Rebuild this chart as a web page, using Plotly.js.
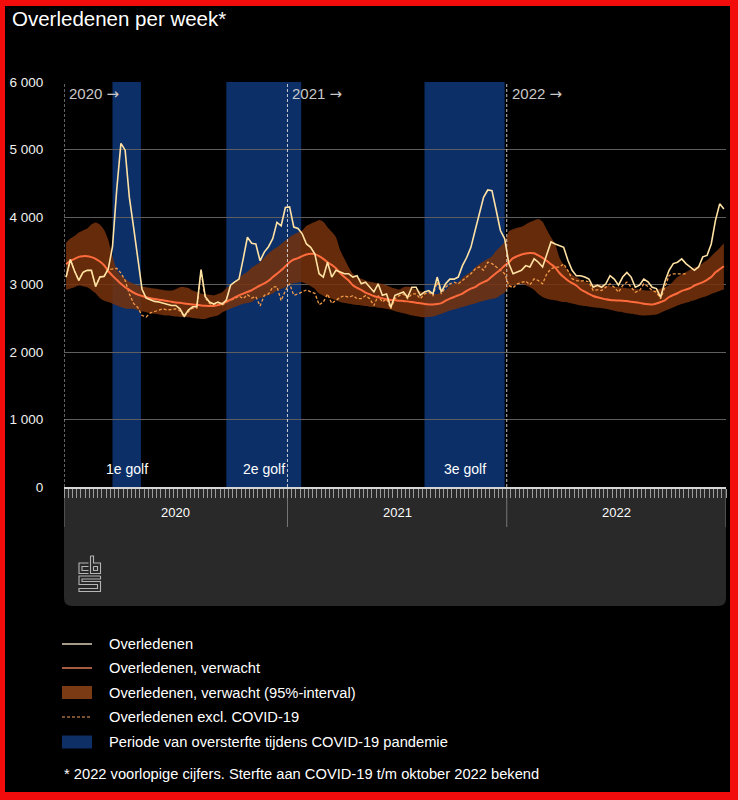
<!DOCTYPE html>
<html>
<head>
<meta charset="utf-8">
<script src="https://cdn.plot.ly/plotly-3.0.1.min.js"></script>
<style>
  html, body { margin:0; padding:0; background:#000; }
  #wrap { position:relative; width:738px; height:800px; }
  #chart { width:738px; height:800px; }
  #frame { position:absolute; left:0; top:0; width:738px; height:800px; box-sizing:border-box;
           border-style:solid; border-color:#f20c0c; border-width:6px 8px 8px 5px; pointer-events:none; }
</style>
</head>
<body>
<div id="wrap"><div id="chart"></div><div id="frame"></div></div>
<script>
// ---------- DATA ----------
const years = ['2020', '2021', '2022'];
const weeksPerYear = [53, 52, 52];

const observed2020 = [3110,3370,3200,3060,3180,3210,3210,2970,3110,3120, 3230,3560,4400,5090,4990,4290,3850,3400,2930,2800,
  2770,2750,2740,2720,2710,2690,2690,2640,2530,2620, 2670,2670,3220,2820,2740,2710,2740,2710,2770,2990,
  3040,3080,3380,3700,3610,3600,3350,3480,3560,3680, 3920,3870,4140];
const observed2021 = [4150,3850,3830,3750,3600,3550,3450,3160,3110,3330, 3110,3210,3180,3160,3160,3110,3130,3010,3035,2960,
  2890,3010,2840,2860,2660,2840,2860,2890,2810,2960, 2960,2840,2890,2910,2860,3110,2890,3010,3080,3080,
  3110,3280,3400,3550,3800,4050,4290,4400,4390,4100, 3800,3680];
const observed2022 = [3310,3160,3180,3210,3280,3260,3380,3330,3260,3450, 3630,3600,3580,3550,3360,3210,3130,3130,3110,3080,
  2960,2990,2960,3010,3130,3080,2990,3110,3180,3110, 2960,2990,3080,3040,2960,2940,2810,3040,3210,3310,
  3330,3380,3310,3260,3210,3260,3410,3430,3600,3950, 4195,4120];

const exclCovid2020 = [3110,3370,3200,3060,3180,3210,3210,2970,3110,3120, 3220,3230,3240,3170,3060,2860,2720,2660,2540,2520,
  2580,2600,2620,2640,2620,2630,2640,2610,2520,2600, 2650,2650,3190,2800,2720,2690,2710,2690,2740,2770,
  2790,2830,2790,2850,2800,2820,2680,2840,2860,2960, 2970,2760,2910];
const exclCovid2021 = [3010,2840,2860,2890,2920,2890,2870,2700,2740,2860, 2720,2765,2810,2835,2810,2835,2790,2790,2835,2790,
  2690,2835,2740,2790,2640,2790,2835,2860,2790,2860, 2860,2790,2860,2885,2835,3035,2860,2960,3010,3035,
  3010,3060,3110,3160,3230,3260,3210,3330,3310,3260, 3210,3160];
const exclCovid2022 = [2985,2950,3010,3035,3050,2995,3084,3060,3010,3158, 3232,3257,3257,3306,3207,3084,3059,3050,3059,3035,
  2911,2921,2911,2960,3010,2960,2886,2985,3035,2960, 2886,2911,3010,2970,2911,2886,2787,2960,3133,3158,
  3158,3158,3158];

const expected2020 = [3300,3350,3380,3410,3420,3420,3405,3380,3340,3285, 3200,3130,3070,3010,2960,2920,2880,2850,2830,2810,
  2795,2785,2775,2765,2755,2745,2735,2728,2720,2712, 2705,2698,2690,2685,2680,2682,2695,2720,2745,2775,
  2810,2840,2865,2890,2915,2950,2985,3015,3055,3110, 3160,3210,3270];
const expected2021 = [3330,3370,3390,3420,3445,3455,3450,3420,3380,3330, 3290,3240,3170,3110,3060,2990,2950,2920,2880,2855,
  2830,2810,2795,2780,2770,2765,2760,2755,2750,2740, 2730,2722,2712,2705,2703,2710,2725,2760,2790,2815,
  2840,2865,2905,2940,2960,3005,3035,3065,3120,3170, 3220,3280];
const expected2022 = [3330,3390,3420,3445,3460,3465,3462,3430,3395,3350, 3300,3250,3170,3110,3060,3020,2985,2930,2895,2860,
  2830,2810,2795,2780,2770,2765,2762,2760,2755,2745, 2738,2728,2715,2708,2704,2718,2740,2765,2815,2845,
  2870,2905,2925,2945,2985,3010,3035,3070,3110,3180, 3225,3270];

const upper2020 = [3620,3680,3720,3770,3800,3830,3890,3920,3890,3810, 3660,3420,3220,3130,3085,3040,3010,2985,2970,2960,
  2950,2940,2930,2920,2910,2910,2930,2960,2960,2950, 2910,2890,2865,2855,2850,2840,2860,2885,2950,2990,
  3030,3100,3150,3185,3250,3290,3330,3400,3460,3510, 3550,3600,3650];
const upper2021 = [3700,3740,3770,3800,3870,3900,3925,3955,3930,3850, 3780,3700,3510,3380,3260,3160,3110,3085,3060,3040,
  3030,3020,3010,2990,2960,2940,2925,2960,2965,2960, 2925,2900,2885,2870,2860,2860,2880,2910,2985,3010,
  3035,3105,3150,3185,3255,3300,3340,3380,3420,3500, 3560,3630];
const upper2022 = [3790,3820,3840,3855,3890,3925,3950,3970,3930,3810, 3700,3600,3400,3290,3210,3150,3110,3070,3040,3015,
  3000,2995,2990,2985,2975,2965,2960,2955,2945,2940, 2935,2925,2915,2910,2915,2920,2940,2960,2990,3050,
  3110,3150,3185,3220,3250,3270,3320,3360,3420,3480, 3540,3610];

const lower2020 = [2920,2940,2960,2985,2975,2960,2920,2870,2800,2760, 2740,2715,2690,2665,2645,2640,2640,2620,2600,2590,
  2575,2565,2555,2545,2540,2535,2525,2520,2518,2515, 2505,2495,2490,2490,2510,2525,2540,2585,2615,2640,
  2665,2690,2715,2725,2740,2785,2800,2815,2840,2865, 2910,2935,2960];
const lower2021 = [3010,3020,3030,3035,3010,2975,2935,2865,2835,2810, 2790,2765,2740,2725,2715,2705,2695,2690,2680,2672,
  2665,2655,2648,2640,2625,2605,2590,2575,2560,2540, 2530,2520,2516,2520,2526,2545,2565,2590,2615,2630,
  2650,2665,2685,2705,2720,2740,2760,2775,2790,2800, 2840,2880];
const lower2022 = [2960,2985,3000,3010,2990,2960,2920,2860,2815,2790, 2775,2765,2750,2740,2735,2720,2705,2690,2680,2670,
  2662,2655,2648,2640,2625,2610,2595,2590,2575,2565, 2555,2545,2540,2545,2550,2555,2580,2610,2635,2660,
  2690,2710,2730,2750,2765,2790,2810,2830,2860,2880, 2905,2925];

// excess-mortality periods (in weeks counted from 2020 week 1)
const waveLabels = ['1e golf', '2e golf', '3e golf'];
const waveStart = [11.5, 38.5, 85.5];
const waveEnd = [18.25, 56.25, 104.5];

const yTickValues = [0, 1000, 2000, 3000, 4000, 5000, 6000];
const yTickLabels = ['0', '1 000', '2 000', '3 000', '4 000', '5 000', '6 000'];

const legendLabels = ['Overledenen', 'Overledenen, verwacht', 'Overledenen, verwacht (95%-interval)',
  'Overledenen excl. COVID-19', 'Periode van oversterfte tijdens COVID-19 pandemie'];
const footnote = '* 2022 voorlopige cijfers. Sterfte aan COVID-19 t/m oktober 2022 bekend';
const chartTitle = 'Overledenen per week*';

// ---------- BUILD ----------
const yearOffset = [];
let acc = 0;
weeksPerYear.forEach(n => { yearOffset.push(acc); acc += n; });
const totalWeeks = acc;

function weekX(yearIdx, count) {
  const out = [];
  for (let w = 1; w <= count; w++) out.push(yearOffset[yearIdx] + w - 0.5);
  return out;
}
const xAll = [].concat(weekX(0, 53), weekX(1, 52), weekX(2, 52));
const xExcl = [].concat(weekX(0, 53), weekX(1, 52), weekX(2, exclCovid2022.length));

const observed = [].concat(observed2020, observed2021, observed2022);
const exclCovid = [].concat(exclCovid2020, exclCovid2021, exclCovid2022);
const expected = [].concat(expected2020, expected2021, expected2022);
const upper = [].concat(upper2020, upper2021, upper2022);
const lower = [].concat(lower2020, lower2021, lower2022);

const C = {
  obs: '#ffe2a4', exp: '#ff6b3d', band: 'rgba(118,50,12,0.86)', excl: '#f39a48',
  wave: '#0c2f68', grid: '#5e5e5e'
};

const traces = [
  { x: xAll, y: lower, mode: 'lines', line: { width: 0, shape: 'spline', smoothing: 0.6 }, hoverinfo: 'skip' },
  { x: xAll, y: upper, mode: 'lines', fill: 'tonexty', fillcolor: C.band,
    line: { width: 0, shape: 'spline', smoothing: 0.6 }, hoverinfo: 'skip' },
  { x: xExcl, y: exclCovid, mode: 'lines', line: { color: C.excl, width: 1.3, dash: '3px,2px' } },
  { x: xAll, y: expected, mode: 'lines', line: { color: C.exp, width: 2, shape: 'spline', smoothing: 0.6 } },
  { x: xAll, y: observed, mode: 'lines', line: { color: C.obs, width: 1.6 } }
];

// plot-area pixel helpers (plot area: x 64..726, y 82..487)
const PL = 64, PR = 726, PT = 82, PB = 487;
const px = v => (v - PL) / (PR - PL);
const py = v => (PB - v) / (PB - PT);

const shapes = [];
const annotations = [];
const ARROW = '<span style="font-family:\'DejaVu Sans\'">\u2192</span>';

// waves
waveStart.forEach((s, i) => {
  shapes.push({ type: 'rect', xref: 'x', yref: 'paper', x0: s, x1: waveEnd[i], y0: 0, y1: 1,
    fillcolor: C.wave, line: { width: 0 }, layer: 'below' });
  annotations.push({ xref: 'x', yref: 'paper', x: (s + waveEnd[i]) / 2, y: py(469), text: waveLabels[i],
    showarrow: false, xanchor: 'center', yanchor: 'middle', font: { size: 14, color: '#ffffff' } });
});

// axis panel with rounded bottom corners
(function () {
  const yt = py(488), yb = py(606), dx = 8 / (PR - PL), dy = 8 / (PB - PT);
  shapes.push({ type: 'path', xref: 'paper', yref: 'paper', layer: 'below',
    path: `M0,${yt} L1,${yt} L1,${yb + dy} Q1,${yb} ${1 - dx},${yb} L${dx},${yb} Q0,${yb} 0,${yb + dy} Z`,
    fillcolor: '#292929', line: { width: 0 } });
})();

// year boundaries
const boundaries = yearOffset.concat([totalWeeks]);
boundaries.forEach(b => {
  shapes.push({ type: 'line', xref: 'x', yref: 'paper', x0: b, x1: b, y0: py(489), y1: py(527),
    line: { color: '#777777', width: 1 }, layer: 'below' });
});
yearOffset.forEach((b, i) => {
  shapes.push({ type: 'line', xref: 'x', yref: 'paper', x0: b, x1: b, y0: 0, y1: 1,
    line: { color: 'rgba(230,230,230,0.85)', width: 1, dash: '3px,2px' }, layer: 'above' });
  annotations.push({ xref: 'x', yref: 'paper', x: b, xshift: 3, y: py(94), text: years[i] + ' ' + ARROW,
    showarrow: false, xanchor: 'left', yanchor: 'middle', font: { size: 15, color: '#c9c9c9' } });
  annotations.push({ xref: 'x', yref: 'paper', x: b + weeksPerYear[i] / 2, y: py(512), text: years[i],
    showarrow: false, xanchor: 'center', yanchor: 'middle', font: { size: 13, color: '#ffffff' } });
});

// CBS logo (outline glyphs)
function pathFrom(pts) {
  return pts.map((p, i) => (i ? 'L' : 'M') + px(p[0]).toFixed(5) + ',' + py(p[1]).toFixed(5)).join(' ');
}
const logoParts = [
  pathFrom([[88.5,563],[79,563],[79,573.5],[88.5,573.5]]),
  pathFrom([[88.5,566.5],[82,566.5],[82,570.5],[88.5,570.5]]),
  pathFrom([[90.5,556],[90.5,573.5],[100.5,573.5],[100.5,563],[93.5,563],[93.5,556],[90.5,556]]),
  pathFrom([[93.5,566.5],[97.5,566.5],[97.5,570.5],[93.5,570.5],[93.5,566.5]]),
  pathFrom([[100.5,576],[79,576],[79,584.5],[97.5,584.5],[97.5,588.5],[79,588.5],[79,591.5],[100.5,591.5],[100.5,581.5],[82,581.5],[82,579],[100.5,579],[100.5,576]])
];
logoParts.forEach(p => shapes.push({ type: 'path', xref: 'paper', yref: 'paper', path: p,
  line: { color: '#b5b5b5', width: 1.1 }, layer: 'above' }));

// legend (drawn)
const legendY = [644, 668, 692.5, 717, 742];
const LX0 = 62, LX1 = 92, LT = 107;
shapes.push({ type: 'line', xref: 'paper', yref: 'paper', x0: px(LX0), x1: px(LX1), y0: py(legendY[0]), y1: py(legendY[0]),
  line: { color: '#fff0d0', width: 1.3 } });
shapes.push({ type: 'line', xref: 'paper', yref: 'paper', x0: px(LX0), x1: px(LX1), y0: py(legendY[1]), y1: py(legendY[1]),
  line: { color: '#ff9066', width: 1.3 } });
shapes.push({ type: 'rect', xref: 'paper', yref: 'paper', x0: px(LX0), x1: px(LX1), y0: py(legendY[2] - 6.5), y1: py(legendY[2] + 6.5),
  fillcolor: '#7a3b14', line: { width: 0 } });
shapes.push({ type: 'line', xref: 'paper', yref: 'paper', x0: px(LX0), x1: px(LX1), y0: py(legendY[3]), y1: py(legendY[3]),
  line: { color: '#f5a35e', width: 1.1, dash: '3px,2px' } });
shapes.push({ type: 'rect', xref: 'paper', yref: 'paper', x0: px(LX0), x1: px(LX1), y0: py(legendY[4] - 6.5), y1: py(legendY[4] + 6.5),
  fillcolor: '#0e2f66', line: { width: 0 } });
legendLabels.forEach((t, i) => annotations.push({ xref: 'paper', yref: 'paper', x: px(LT), y: py(legendY[i]), text: t,
  showarrow: false, xanchor: 'left', yanchor: 'middle', font: { size: 14.7, color: '#ffffff' } }));
annotations.push({ xref: 'paper', yref: 'paper', x: px(62), y: py(774), text: footnote,
  showarrow: false, xanchor: 'left', yanchor: 'middle', font: { size: 14.7, color: '#ffffff' } });

const layout = {
  width: 738, height: 800,
  paper_bgcolor: '#000000', plot_bgcolor: '#000000',
  margin: { l: PL, r: 738 - PR, t: PT, b: 800 - PB, pad: 0 },
  font: { family: '"Liberation Sans", Arial, sans-serif', color: '#ffffff' },
  showlegend: false,
  title: { text: chartTitle, xref: 'container', yref: 'container', x: 12 / 738, xanchor: 'left',
    y: 1 - 12 / 800, yanchor: 'top', font: { size: 20.5, color: '#ffffff' } },
  xaxis: { range: [0, totalWeeks], tickmode: 'linear', tick0: 0, dtick: 1, ticks: 'outside', ticklen: 9,
    tickwidth: 1, tickcolor: '#9c9c9c', showticklabels: false, showgrid: false, zeroline: false,
    showline: true, linecolor: '#d6d6d6', linewidth: 2, fixedrange: true },
  yaxis: { range: [0, 6000], tickmode: 'array', tickvals: yTickValues, ticktext: yTickLabels,
    ticks: 'outside', ticklen: 17, tickcolor: 'rgba(0,0,0,0)', showgrid: true, gridcolor: C.grid, gridwidth: 1,
    zeroline: false, showline: false, tickfont: { size: 13.5, color: '#f0f0f0' }, fixedrange: true },
  shapes: shapes,
  annotations: annotations
};

Plotly.newPlot('chart', traces, layout, { staticPlot: true, displayModeBar: false });
</script>
</body>
</html>
